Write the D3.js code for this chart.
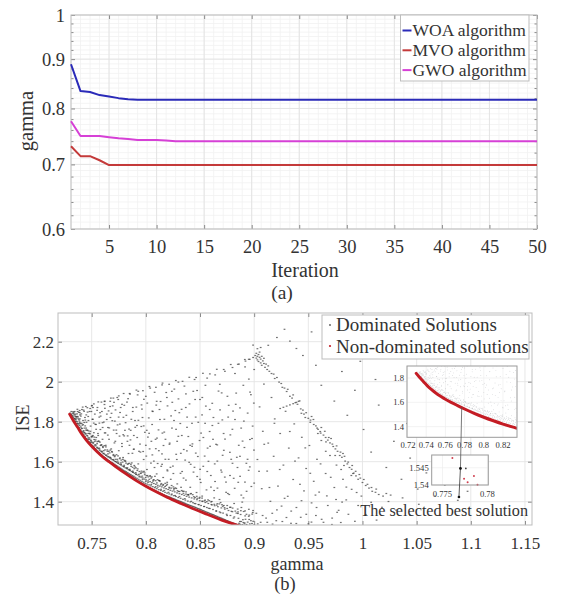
<!DOCTYPE html>
<html>
<head>
<meta charset="utf-8">
<script src="https://cdn.jsdelivr.net/npm/d3@7"></script>
<style>
  body { margin: 0; background: #fff; }
  svg { display: block; font-family: "Liberation Serif", "Times New Roman", serif; }
</style>
</head>
<body>
<svg id="chart" width="561" height="596"></svg>
<script>
// ---------------- (a) convergence of gamma ----------------
const iterations = [1,2,3,4,5,6,7,8,9,10,11,12,13,14,15,16,17,18,19,20,21,22,23,24,25,
  26,27,28,29,30,31,32,33,34,35,36,37,38,39,40,41,42,43,44,45,46,47,48,49,50];
const woaGamma = [0.889,0.834,0.832,0.826,0.823,0.820,0.818,0.817,0.817,0.817,
  0.817,0.817,0.817,0.817,0.817,0.817,0.817,0.817,0.817,0.817,
  0.817,0.817,0.817,0.817,0.817,0.817,0.817,0.817,0.817,0.817,
  0.817,0.817,0.817,0.817,0.817,0.817,0.817,0.817,0.817,0.817,
  0.817,0.817,0.817,0.817,0.817,0.817,0.817,0.817,0.817,0.817];
const mvoGamma = [0.731,0.714,0.714,0.707,0.699,0.699,0.699,0.699,0.699,0.699,
  0.699,0.699,0.699,0.699,0.699,0.699,0.699,0.699,0.699,0.699,
  0.699,0.699,0.699,0.699,0.699,0.699,0.699,0.699,0.699,0.699,
  0.699,0.699,0.699,0.699,0.699,0.699,0.699,0.699,0.699,0.699,
  0.699,0.699,0.699,0.699,0.699,0.699,0.699,0.699,0.699,0.699];
const gwoGamma = [0.776,0.749,0.749,0.749,0.747,0.745,0.744,0.742,0.742,0.742,
  0.741,0.740,0.740,0.740,0.740,0.740,0.740,0.740,0.740,0.740,
  0.740,0.740,0.740,0.740,0.740,0.740,0.740,0.740,0.740,0.740,
  0.740,0.740,0.740,0.740,0.740,0.740,0.740,0.740,0.740,0.740,
  0.740,0.740,0.740,0.740,0.740,0.740,0.740,0.740,0.740,0.740];
const seriesNames = ["WOA algorithm", "MVO algorithm", "GWO algorithm"];
const iterTicks = [5,10,15,20,25,30,35,40,45,50];
const gammaTicksA = [0.6,0.7,0.8,0.9,1];

// ---------------- (b) Pareto front: gamma vs ISE ----------------
const gammaTicksB = [0.75,0.8,0.85,0.9,0.95,1,1.05,1.1,1.15];
const iseTicks = [1.4,1.6,1.8,2,2.2];
const legendNamesB = ["Dominated Solutions", "Non-dominated solutions"];

// non-dominated (Pareto) solutions [gamma, ISE]
const paretoFront = [
  [0.7296,1.838],[0.733,1.806],[0.737,1.772],[0.741,1.737],[0.745,1.708],
  [0.750,1.677],[0.755,1.650],[0.760,1.625],[0.766,1.600],[0.772,1.576],
  [0.780,1.545],[0.790,1.509],[0.800,1.477],[0.810,1.448],[0.820,1.421],
  [0.833,1.390],[0.845,1.362],[0.857,1.336],[0.870,1.308],[0.8855,1.280]
];

// dominated solutions [gamma, ISE], left part of the cloud
const dominatedLeft = [
  [0.731,1.835],[0.732,1.828],[0.733,1.842],[0.734,1.816],[0.735,1.838],[0.735,1.801],[0.736,1.826],[0.737,1.851],
  [0.737,1.789],[0.738,1.812],[0.738,1.772],[0.739,1.845],[0.739,1.797],[0.740,1.828],[0.740,1.758],
  [0.741,1.749],[0.741,1.861],[0.742,1.733],[0.742,1.806],[0.743,1.744],[0.743,1.852],[0.744,1.722],[0.744,1.779],
  [0.745,1.715],[0.745,1.834],[0.746,1.703],[0.746,1.758],[0.746,1.870],[0.747,1.712],[0.747,1.806],[0.748,1.692],
  [0.748,1.742],[0.748,1.851],[0.749,1.697],[0.749,1.778],[0.750,1.681],[0.750,1.723],[0.750,1.879],
  [0.751,1.676],[0.751,1.812],[0.752,1.674],[0.752,1.745],[0.752,1.889],[0.753,1.663],[0.753,1.702],[0.754,1.658],
  [0.754,1.786],[0.755,1.652],[0.755,1.690],[0.755,1.857],[0.756,1.646],[0.756,1.731],[0.757,1.646],[0.757,1.668],
  [0.757,1.823],[0.758,1.637],[0.758,1.761],[0.759,1.631],[0.759,1.684],[0.759,1.898],[0.760,1.626],[0.760,1.712],[0.760,1.795],
  [0.761,1.622],[0.761,1.655],[0.762,1.621],[0.762,1.744],[0.762,1.903],[0.763,1.614],[0.763,1.682],[0.764,1.609],
  [0.764,1.838],[0.765,1.606],[0.765,1.639],[0.765,1.771],[0.766,1.602],[0.766,1.712],[0.767,1.598],[0.767,1.622],
  [0.767,1.876],[0.768,1.593],[0.768,1.664],[0.769,1.592],[0.769,1.805],[0.770,1.588],[0.770,1.631],[0.770,1.918],
  [0.771,1.584],[0.771,1.694],[0.772,1.579],[0.772,1.612],[0.772,1.859],[0.773,1.577],[0.773,1.741],[0.774,1.572],
  [0.774,1.603],[0.775,1.569],[0.775,1.655],[0.775,1.929],[0.776,1.566],[0.776,1.788],[0.777,1.563],[0.777,1.594],
  [0.778,1.558],[0.778,1.676],[0.778,1.887],[0.779,1.554],[0.779,1.621],[0.780,1.551],[0.780,1.729],[0.780,1.582],
  [0.781,1.548],[0.781,1.603],[0.782,1.544],[0.782,1.832],[0.783,1.541],[0.783,1.569],[0.783,1.702],[0.784,1.536],
  [0.784,1.641],[0.785,1.533],[0.785,1.558],[0.785,1.941],[0.786,1.529],[0.786,1.757],[0.787,1.526],[0.787,1.594],
  [0.788,1.522],[0.788,1.547],[0.788,1.871],[0.789,1.518],[0.789,1.663],[0.790,1.515],[0.790,1.574],[0.790,1.806],
  [0.791,1.511],[0.791,1.536],[0.792,1.507],[0.792,1.721],[0.793,1.503],[0.793,1.589],[0.793,1.952],[0.794,1.500],
  [0.794,1.524],[0.795,1.497],[0.795,1.648],[0.796,1.493],[0.796,1.553],[0.796,1.884],[0.797,1.490],[0.797,1.512],
  [0.798,1.486],[0.798,1.611],[0.798,1.779],[0.799,1.483],[0.799,1.535],[0.800,1.480],[0.800,1.502],[0.800,1.682],[0.800,1.927],
  [0.801,1.477],[0.801,1.561],[0.802,1.473],[0.802,1.497],[0.803,1.471],[0.803,1.742],[0.804,1.468],[0.804,1.528],
  [0.804,1.968],[0.805,1.465],[0.805,1.486],[0.806,1.462],[0.806,1.634],[0.806,1.853],[0.807,1.459],[0.807,1.508],
  [0.808,1.457],[0.808,1.571],[0.809,1.454],[0.809,1.475],[0.809,1.712],[0.810,1.451],[0.810,1.539],[0.810,1.902],
  [0.811,1.449],[0.811,1.473],[0.812,1.446],[0.812,1.655],[0.813,1.444],[0.813,1.503],[0.813,1.811],[0.814,1.441],
  [0.814,1.462],[0.815,1.439],[0.815,1.587],[0.815,1.984],[0.816,1.436],[0.816,1.521],[0.817,1.434],[0.817,1.456],
  [0.817,1.748],[0.818,1.431],[0.818,1.612],[0.819,1.429],[0.819,1.481],[0.820,1.427],[0.820,1.554],[0.820,1.879],
  [0.821,1.425],[0.821,1.447],[0.822,1.423],[0.822,1.693],[0.823,1.421],[0.823,1.512],[0.824,1.418],[0.824,1.438],
  [0.824,1.952],[0.825,1.416],[0.825,1.578],[0.826,1.414],[0.826,1.466],[0.826,1.806],[0.827,1.412],[0.827,1.431],
  [0.828,1.409],[0.828,1.637],[0.829,1.407],[0.829,1.489],[0.830,1.405],[0.830,1.727],[0.830,1.998],
  [0.831,1.403],[0.831,1.426],[0.832,1.401],[0.832,1.542],[0.833,1.399],[0.833,1.862],[0.834,1.396],[0.834,1.452],
  [0.835,1.394],[0.835,1.661],[0.836,1.392],[0.836,1.415],[0.837,1.389],[0.837,1.508],[0.837,1.939],[0.838,1.387],
  [0.838,1.772],[0.839,1.385],[0.839,1.436],[0.840,1.383],[0.840,1.597],
  [0.841,1.381],[0.841,1.472],[0.842,1.379],[0.842,1.402],[0.843,1.377],[0.843,1.689],[0.844,1.375],[0.844,1.548],
  [0.845,1.373],[0.845,1.391],[0.845,2.011],[0.846,1.371],[0.846,1.823],[0.847,1.368],[0.847,1.427],[0.848,1.366],
  [0.848,1.626],[0.849,1.364],[0.849,1.385],[0.850,1.362],[0.850,1.512],[0.850,1.911],
  [0.851,1.360],[0.851,1.743],[0.852,1.357],[0.852,1.403],[0.853,1.355],[0.853,1.577],[0.854,1.353],[0.854,1.376],
  [0.855,1.350],[0.855,1.982],[0.856,1.348],[0.856,1.459],[0.857,1.346],[0.857,1.668],[0.858,1.344],[0.858,1.367],
  [0.859,1.341],[0.859,1.861],[0.860,1.339],[0.860,1.531],
  [0.861,1.337],[0.861,1.384],[0.862,1.335],[0.862,1.712],[0.863,1.333],[0.863,1.456],[0.864,1.330],[0.864,2.034],
  [0.865,1.328],[0.865,1.352],[0.866,1.326],[0.866,1.603],[0.867,1.323],[0.867,1.792],[0.868,1.321],[0.868,1.411],
  [0.869,1.319],[0.869,1.345],[0.870,1.317],[0.870,1.944],[0.870,1.548],
  [0.871,1.314],[0.871,1.377],[0.872,1.312],[0.872,1.657],[0.873,1.310],[0.873,2.052],[0.874,1.307],[0.874,1.498],
  [0.875,1.305],[0.875,1.331],[0.876,1.303],[0.876,1.823],[0.877,1.301],[0.877,1.436],[0.878,1.298],[0.878,1.734],
  [0.879,1.296],[0.879,1.352],[0.880,1.294],[0.880,1.592],[0.880,2.071],
  [0.881,1.292],[0.881,1.318],[0.882,1.290],[0.882,1.467],[0.883,1.288],[0.883,1.887],[0.884,1.286],[0.884,1.622],
  [0.885,1.284],[0.885,1.341],[0.886,1.292],[0.886,2.088],[0.887,1.287],[0.887,1.527],[0.888,1.301],[0.888,1.768],
  [0.889,1.285],[0.889,1.398],[0.890,1.296],[0.890,1.982],
  [0.891,1.289],[0.891,1.671],[0.892,1.312],[0.892,2.103],[0.893,1.286],[0.893,1.452],[0.894,1.298],[0.894,1.843],
  [0.895,1.327],[0.895,2.112],[0.896,1.289],[0.896,1.574],[0.897,1.305],[0.897,1.935],[0.898,1.291],[0.898,1.716],
  [0.899,1.356],[0.899,2.121],[0.900,1.284],[0.900,1.493],[0.900,2.061]
];

// dense band of dominated solutions just above the front
const dominatedNearFront = [
  [0.7302,1.843],[0.7308,1.833],[0.7315,1.830],[0.7322,1.822],[0.7327,1.829],[0.7334,1.811],[0.7341,1.815],[0.7347,1.799],
  [0.7353,1.808],[0.7358,1.791],[0.7364,1.801],[0.7371,1.779],[0.7376,1.789],[0.7382,1.770],[0.7388,1.781],[0.7393,1.761],
  [0.7399,1.774],[0.7404,1.752],[0.7411,1.766],[0.7416,1.744],[0.7423,1.752],[0.7428,1.734],[0.7434,1.746],[0.7439,1.727],
  [0.7446,1.738],[0.7452,1.716],[0.7457,1.731],[0.7463,1.709],[0.7469,1.719],[0.7474,1.701],[0.7481,1.712],[0.7486,1.693],
  [0.7492,1.707],[0.7497,1.686],[0.7503,1.697],[0.7509,1.678],[0.7514,1.692],[0.7521,1.671],[0.7527,1.683],[0.7532,1.664],
  [0.7538,1.679],[0.7544,1.657],[0.7549,1.669],[0.7556,1.651],[0.7561,1.666],[0.7567,1.646],[0.7573,1.657],[0.7578,1.640],
  [0.7585,1.653],[0.7591,1.634],[0.7596,1.648],[0.7602,1.628],[0.7608,1.641],[0.7613,1.623],[0.7619,1.637],[0.7626,1.619],
  [0.7631,1.632],[0.7637,1.614],[0.7642,1.628],[0.7648,1.609],[0.7654,1.623],[0.7661,1.605],[0.7667,1.619],[0.7672,1.600],
  [0.7679,1.614],[0.7685,1.596],[0.7691,1.610],[0.7698,1.592],[0.7704,1.606],[0.7711,1.587],[0.7717,1.601],[0.7724,1.582],
  [0.7731,1.596],[0.7737,1.578],[0.7744,1.592],[0.7751,1.573],[0.7758,1.587],[0.7764,1.568],[0.7771,1.583],[0.7778,1.563],
  [0.7785,1.578],[0.7791,1.558],[0.7798,1.574],[0.7805,1.554],[0.7812,1.569],[0.7819,1.550],[0.7826,1.565],[0.7833,1.545],
  [0.7840,1.560],[0.7847,1.540],[0.7854,1.556],[0.7861,1.536],[0.7868,1.551],[0.7875,1.531],[0.7882,1.547],[0.7889,1.527],
  [0.7896,1.542],[0.7903,1.522],[0.7911,1.538],[0.7918,1.517],[0.7925,1.533],[0.7933,1.512],[0.7941,1.528],[0.7948,1.507],
  [0.7956,1.523],[0.7964,1.502],[0.7971,1.519],[0.7979,1.497],[0.7987,1.513],[0.7995,1.492],[0.8003,1.509],[0.8012,1.488],
  [0.8021,1.504],[0.8030,1.484],[0.8039,1.500],[0.8047,1.479],[0.8056,1.495],[0.8065,1.475],[0.8074,1.491],[0.8083,1.470],
  [0.8092,1.487],[0.8101,1.465],[0.8110,1.482],[0.8120,1.460],[0.8129,1.478],[0.8139,1.456],[0.8148,1.474],[0.8158,1.452],
  [0.8167,1.469],[0.8177,1.447],[0.8187,1.465],[0.8196,1.443],[0.8206,1.461],[0.8216,1.439],[0.8226,1.457],[0.8236,1.434],
  [0.8246,1.453],[0.8257,1.430],[0.8267,1.449],[0.8278,1.426],[0.8288,1.444],[0.8299,1.421],[0.8310,1.440],[0.8321,1.417],
  [0.8332,1.436],[0.8343,1.412],[0.8354,1.432],[0.8365,1.408],[0.8376,1.427],[0.8388,1.403],[0.8400,1.423],[0.8411,1.399],
  [0.8423,1.419],[0.8435,1.395],[0.8447,1.414],[0.8459,1.390],[0.8472,1.410],[0.8484,1.386],[0.8497,1.405],[0.8510,1.381],
  [0.8523,1.401],[0.8536,1.376],[0.8549,1.396],[0.8563,1.371],[0.8577,1.391],[0.8591,1.366],[0.8605,1.386],[0.8620,1.361],
  [0.8635,1.380],[0.8650,1.355],[0.8665,1.375],[0.8681,1.349],[0.8697,1.369],[0.8713,1.343],[0.8729,1.363],[0.8746,1.337],
  [0.8763,1.356],[0.8781,1.331],[0.8799,1.350],[0.8817,1.324],[0.8836,1.343],[0.8855,1.317],[0.8875,1.336],[0.8896,1.310],
  [0.8917,1.329],
  [0.7312,1.851],[0.7336,1.838],[0.7361,1.824],[0.7385,1.804],[0.7408,1.792],[0.7433,1.768],[0.7459,1.757],[0.7484,1.739],
  [0.7511,1.731],[0.7537,1.709],[0.7563,1.704],[0.7589,1.684],[0.7617,1.680],[0.7644,1.659],[0.7672,1.658],[0.7701,1.636],
  [0.7729,1.635],[0.7758,1.615],[0.7788,1.612],[0.7817,1.593],[0.7847,1.592],[0.7878,1.572],[0.7909,1.569],[0.7941,1.551],
  [0.7973,1.548],[0.8006,1.530],[0.8039,1.529],[0.8073,1.510],[0.8108,1.510],[0.8143,1.491],[0.8179,1.492],[0.8216,1.472],
  [0.8254,1.474],[0.8292,1.455],[0.8331,1.456],[0.8371,1.438],[0.8412,1.439],[0.8454,1.421],[0.8497,1.422],[0.8541,1.404],
  [0.8586,1.405],[0.8632,1.387],[0.8679,1.389],[0.8727,1.370],[0.8776,1.372],[0.8826,1.353],[0.8877,1.355],[0.8929,1.337],
  [0.8982,1.338],
  [0.7327,1.849],[0.7349,1.826],[0.7374,1.818],[0.7396,1.791],[0.7421,1.785],[0.7447,1.758],[0.7471,1.754],[0.7498,1.727],
  [0.7524,1.723],[0.7551,1.700],[0.7576,1.698],[0.7603,1.676],[0.7631,1.674],[0.7658,1.652],[0.7686,1.651],[0.7715,1.630],
  [0.7743,1.629],[0.7773,1.608],[0.7802,1.607],[0.7832,1.587],[0.7862,1.587],[0.7893,1.565],[0.7925,1.564],[0.7957,1.544],
  [0.7989,1.544],[0.8022,1.524],[0.8056,1.524],[0.8090,1.505],[0.8125,1.505],[0.8161,1.486],[0.8197,1.487],[0.8235,1.468],
  [0.8273,1.469],[0.8311,1.451],[0.8351,1.452],[0.8391,1.434],[0.8433,1.435],[0.8475,1.417],[0.8519,1.418],[0.8563,1.400],
  [0.8609,1.401],[0.8655,1.383],[0.8703,1.385],[0.8751,1.366],[0.8801,1.368],[0.8851,1.349],[0.8903,1.351],[0.8955,1.333],
  [0.7318,1.839],[0.7331,1.822],[0.7345,1.833],[0.7352,1.812],[0.7367,1.793],[0.7372,1.826],[0.7386,1.789],[0.7391,1.814],
  [0.7405,1.768],[0.7413,1.783],[0.7426,1.755],[0.7431,1.796],[0.7444,1.741],[0.7449,1.768],[0.7462,1.728],[0.7468,1.741],
  [0.7479,1.719],[0.7488,1.752],[0.7495,1.703],[0.7506,1.726],[0.7516,1.697],[0.7523,1.711],[0.7535,1.685],[0.7542,1.721],
  [0.7552,1.672],[0.7565,1.701],[0.7572,1.663],[0.7582,1.681],[0.7594,1.651],[0.7604,1.671],[0.7611,1.642],[0.7623,1.659],
  [0.7634,1.633],[0.7645,1.652],[0.7655,1.626],[0.7666,1.644],[0.7676,1.619],[0.7689,1.648],[0.7699,1.611],[0.7712,1.625],
  [0.7722,1.601],[0.7736,1.612],[0.7747,1.594],[0.7761,1.619],[0.7772,1.587],[0.7786,1.598],[0.7797,1.576],[0.7811,1.603],
  [0.7823,1.569],[0.7838,1.590],[0.7851,1.562],[0.7864,1.577],[0.7879,1.553],[0.7893,1.581],[0.7907,1.545],[0.7921,1.556],
  [0.7936,1.537],[0.7952,1.541],[0.7967,1.528],[0.7983,1.552],[0.7998,1.521],[0.8015,1.531],[0.8032,1.512],[0.8049,1.518],
  [0.8066,1.503],[0.8084,1.527],[0.8102,1.494],[0.8121,1.506],[0.8139,1.485],[0.8158,1.482],[0.8178,1.476],[0.8197,1.497],
  [0.8218,1.468],[0.8238,1.481],[0.8259,1.459],[0.8281,1.466],[0.8302,1.451],[0.8325,1.472],[0.8347,1.442],[0.8371,1.449],
  [0.8394,1.434],[0.8418,1.441],[0.8443,1.425],[0.8468,1.446],[0.8494,1.417],[0.8520,1.428],[0.8547,1.408],[0.8574,1.409],
  [0.8602,1.399],[0.8631,1.419],[0.8660,1.390],[0.8690,1.396],[0.8720,1.381],[0.8751,1.381],[0.8783,1.372],[0.8815,1.391],
  [0.8848,1.363],[0.8882,1.371],[0.8916,1.354],[0.8951,1.362],[0.8987,1.346]
];

// scattered dominated solutions inside the cloud
const dominatedInterior = [
  [0.7343,1.851],[0.7368,1.862],[0.7392,1.834],[0.7417,1.873],[0.7438,1.821],[0.7462,1.848],[0.7486,1.866],[0.7507,1.812],
  [0.7529,1.838],[0.7553,1.871],[0.7571,1.793],[0.7594,1.851],[0.7618,1.886],[0.7639,1.811],[0.7662,1.769],[0.7683,1.842],
  [0.7706,1.897],[0.7727,1.758],[0.7749,1.823],[0.7768,1.871],[0.7791,1.735],[0.7813,1.795],[0.7836,1.915],[0.7858,1.709],
  [0.7879,1.851],[0.7902,1.772],[0.7924,1.934],[0.7946,1.688],[0.7969,1.821],[0.7991,1.747],[0.8013,1.893],[0.8035,1.664],
  [0.8058,1.786],[0.8081,1.947],[0.8103,1.718],[0.8126,1.861],[0.8149,1.639],[0.8171,1.812],[0.8194,1.921],[0.8218,1.687],
  [0.8241,1.768],[0.8263,1.963],[0.8286,1.611],[0.8309,1.845],[0.8332,1.731],[0.8356,1.978],[0.8379,1.654],[0.8403,1.889],
  [0.8426,1.792],[0.8449,1.572],[0.8473,1.956],[0.8496,1.706],[0.8519,1.834],[0.8543,1.628],[0.8566,2.018],[0.8589,1.751],
  [0.8613,1.892],[0.8636,1.589],[0.8659,1.684],[0.8683,1.987],[0.8706,1.809],[0.8729,1.523],[0.8753,1.927],[0.8776,1.647],
  [0.8799,1.762],[0.8823,2.041],[0.8846,1.571],[0.8869,1.869],[0.8893,1.703],[0.8916,2.074],[0.8939,1.612],[0.8962,1.948],
  [0.8986,1.778],
  [0.7356,1.818],[0.7404,1.839],[0.7452,1.797],[0.7497,1.851],[0.7541,1.762],[0.7583,1.828],[0.7627,1.744],[0.7671,1.902],
  [0.7714,1.803],[0.7757,1.728],[0.7801,1.882],[0.7845,1.763],[0.7887,1.662],[0.7931,1.807],[0.7975,1.651],[0.8019,1.723],
  [0.8064,1.851],[0.8109,1.591],[0.8153,1.743],[0.8198,1.559],[0.8244,1.897],[0.8289,1.702],[0.8335,1.551],[0.8381,1.823],
  [0.8427,1.677],[0.8474,1.526],[0.8521,1.921],[0.8567,1.551],[0.8614,1.781],[0.8661,1.468],[0.8709,1.632],[0.8757,1.441],
  [0.8805,1.853],[0.8853,1.497],[0.8901,1.419],[0.8949,1.557],[0.8997,1.893],
  [0.7381,1.847],[0.7425,1.858],[0.7468,1.826],[0.7512,1.871],[0.7533,1.787],[0.7577,1.845],[0.7601,1.771],[0.7622,1.867],
  [0.7649,1.733],[0.7673,1.821],[0.7694,1.879],[0.7718,1.702],[0.7739,1.784],[0.7762,1.846],[0.7779,1.691],[0.7807,1.757],
  [0.7826,1.898],[0.7849,1.682],[0.7866,1.812],[0.7889,1.731],[0.7912,1.873],[0.7937,1.652],[0.7958,1.776],[0.7982,1.912],
  [0.8004,1.628],[0.8027,1.819],[0.8051,1.702],[0.8074,1.603],[0.8096,1.883],[0.8117,1.759],[0.8142,1.577],[0.8163,1.681],
  [0.8188,1.946],[0.8211,1.612],[0.8233,1.829],[0.8254,1.541],[0.8279,1.762],[0.8301,1.914],[0.8323,1.642],[0.8348,1.518],
  [0.8369,1.871],[0.8392,1.726],[0.8414,1.587],[0.8438,1.952],[0.8461,1.643],[0.8484,1.797],[0.8507,1.496],[0.8531,1.721],
  [0.8554,1.878],[0.8578,1.602],[0.8601,1.473],[0.8624,1.821],[0.8648,1.687],[0.8671,1.953],[0.8694,1.558],[0.8718,1.741],
  [0.8741,1.447],[0.8765,1.882],[0.8788,1.612],[0.8811,1.517],[0.8834,1.943],[0.8858,1.682],[0.8881,1.433],[0.8905,1.803],
  [0.8928,1.592],[0.8951,2.013],[0.8974,1.476],[0.8998,1.658],
  [0.7365,1.839],[0.7441,1.808],[0.7519,1.793],[0.7558,1.741],[0.7612,1.798],[0.7656,1.854],[0.7703,1.758],[0.7745,1.911],
  [0.7793,1.822],[0.7832,1.729],[0.7876,1.642],[0.7918,1.781],[0.7964,1.863],[0.8008,1.757],[0.8047,1.593],[0.8092,1.665],
  [0.8136,1.901],[0.8181,1.712],[0.8227,1.572],[0.8272,1.856],[0.8318,1.791],[0.8363,1.608],[0.8409,1.682],[0.8455,1.911],
  [0.8501,1.562],[0.8547,1.792],[0.8593,1.677],[0.8639,1.501],[0.8685,1.859],[0.8731,1.713],[0.8777,1.531],[0.8823,1.811],
  [0.8869,1.627],[0.8915,1.498],[0.8961,1.711]
];

// dominated solutions along the upper rim of the cloud
const dominatedUpperRim = [
  [0.7335,1.848],[0.7389,1.856],[0.7446,1.876],[0.7503,1.881],[0.7561,1.899],[0.7619,1.901],[0.7677,1.918],[0.7736,1.921],
  [0.7795,1.941],[0.7854,1.938],[0.7913,1.958],[0.7973,1.955],[0.8033,1.976],[0.8093,1.972],[0.8154,1.993],[0.8215,1.987],
  [0.8277,2.006],[0.8339,2.002],[0.8401,2.022],[0.8464,2.021],[0.8527,2.042],[0.8591,2.039],[0.8655,2.062],[0.8719,2.061],
  [0.8784,2.086],[0.8849,2.087],[0.8914,2.111],[0.8959,2.112]
];

// right part: top cluster, descending band, lower region and outliers
const dominatedRight = [
  [0.901,2.131],[0.902,2.118],[0.902,2.142],[0.903,2.109],[0.903,2.127],[0.904,2.136],[0.904,2.101],[0.905,2.122],
  [0.905,2.148],[0.906,2.113],[0.906,2.094],[0.907,2.127],[0.907,2.082],[0.908,2.104],[0.909,2.091],[0.909,2.117],
  [0.910,2.072],[0.911,2.088],[0.912,2.061],[0.913,2.079],[0.903,2.165],[0.899,2.183],[0.906,2.171],
  [0.914,2.052],[0.916,2.041],[0.918,2.038],[0.919,2.016],[0.921,2.021],[0.923,1.998],[0.925,1.991],[0.926,1.972],
  [0.928,1.968],[0.930,1.951],[0.931,1.962],[0.933,1.927],[0.935,1.918],[0.936,1.934],[0.938,1.895],[0.940,1.887],
  [0.941,1.902],[0.943,1.864],[0.945,1.858],[0.946,1.838],[0.948,1.845],[0.950,1.817],[0.952,1.808],[0.953,1.826],
  [0.955,1.786],[0.957,1.779],[0.959,1.762],[0.961,1.751],[0.962,1.771],[0.964,1.733],[0.966,1.721],[0.968,1.708],
  [0.970,1.694],[0.971,1.716],[0.973,1.676],[0.975,1.664],[0.977,1.652],[0.979,1.631],[0.981,1.622],[0.982,1.641],
  [0.984,1.603],[0.986,1.589],[0.988,1.571],[0.990,1.562],[0.992,1.543],[0.994,1.529],[0.996,1.512],[0.998,1.518],
  [1.000,1.496],[1.003,1.481],[1.006,1.468],[1.009,1.452],[1.012,1.447],[1.015,1.436],[1.019,1.428],[1.022,1.441],[1.026,1.433],
  [0.9436,1.842],[0.9472,1.821],[0.9518,1.797],[0.9547,1.811],[0.9581,1.768],[0.9614,1.743],[0.9652,1.752],[0.9689,1.721],
  [0.9722,1.688],[0.9761,1.679],[0.9797,1.648],[0.9834,1.627],[0.9868,1.598],[0.9905,1.581],[0.9937,1.552],[0.9971,1.536],
  [1.0012,1.511],[1.0046,1.487],[1.0083,1.471],[1.0127,1.463],[0.9663,1.699],[0.9748,1.631],[0.9829,1.581],[0.9912,1.541],[0.9588,1.741],
  [0.924,1.866],[0.927,1.872],[0.930,1.878],[0.933,1.884],[0.936,1.890],[0.939,1.897],[0.942,1.904],
  [0.902,1.342],[0.903,1.611],[0.905,1.874],[0.906,1.297],[0.907,1.465],[0.908,1.752],[0.909,1.988],[0.911,1.318],
  [0.912,1.553],[0.913,1.693],[0.915,1.402],[0.916,1.921],[0.917,1.288],[0.918,1.627],[0.919,1.814],[0.921,1.359],
  [0.922,1.478],[0.924,1.741],[0.926,1.301],[0.927,1.583],[0.929,1.852],[0.931,1.427],[0.932,1.668],[0.934,1.292],
  [0.936,1.511],[0.937,1.789],[0.939,1.371],[0.941,1.619],[0.943,1.322],[0.944,1.722],[0.946,1.454],[0.948,1.566],
  [0.950,1.289],[0.951,1.681],[0.953,1.394],[0.955,1.502],[0.957,1.331],[0.958,1.612],[0.960,1.448],[0.962,1.706],
  [0.964,1.297],[0.966,1.541],[0.968,1.381],[0.970,1.631],[0.972,1.318],[0.974,1.471],[0.976,1.583],[0.978,1.357],
  [0.980,1.296],[0.982,1.512],[0.985,1.409],[0.987,1.337],[0.990,1.462],[0.993,1.302],[0.996,1.381],[0.999,1.428],
  [1.003,1.336],[1.008,1.397],[1.013,1.308],[1.018,1.372],[1.024,1.401],[1.031,1.358],[1.037,1.419],[1.044,1.332],[1.052,1.387],
  [0.8868,1.301],[0.8912,1.294],[0.8954,1.311],[0.8991,1.302],[0.9033,1.289],[0.9078,1.331],[0.9121,1.297],[0.9167,1.342],
  [0.9204,1.305],[0.9253,1.378],[0.9298,1.321],[0.9342,1.353],[0.9389,1.291],[0.9437,1.405],[0.9481,1.337],[0.9529,1.298],
  [0.9576,1.371],[0.9623,1.312],[0.9671,1.429],[0.9718,1.286],[0.9766,1.347],[0.9812,1.398],
  [0.9045,1.552],[0.9093,1.687],[0.9141,1.471],[0.9187,1.792],[0.9236,1.561],[0.9281,1.417],[0.9329,1.751],[0.9377,1.603],
  [0.9423,1.487],[0.9472,1.669],[0.9518,1.542],[0.9566,1.433],[0.9613,1.589],[0.9661,1.652],[0.9707,1.522],[0.9756,1.411],
  [0.9803,1.561],[0.9851,1.473],[0.9897,1.531],[0.9946,1.446],
  [0.913,2.182],[0.921,2.221],[0.933,2.203],[0.939,2.166],[0.945,2.131],[0.953,2.249],[0.957,2.082],[0.962,1.982],
  [0.968,2.148],[0.974,1.903],[0.981,2.051],[0.986,1.832],[0.993,1.957],[1.001,1.761],[1.008,1.648],[1.015,1.883],
  [1.022,1.571],[1.029,1.702],[1.036,1.512],[1.044,1.618],[1.051,1.463],[1.059,1.544],[1.067,1.428],[1.076,1.482],
  [1.088,1.407],[1.097,1.452],[0.998,2.102],[1.012,2.011],[0.928,2.262],[1.041,1.791]
];
const dominated = dominatedLeft.concat(dominatedNearFront, dominatedInterior, dominatedUpperRim, dominatedRight);

// close-up around the chosen compromise solution
const bestSolution = [0.7770, 1.5448];
const nearBestDominated = [[0.7776, 1.5448]];
const nearBestPareto = [[0.7761,1.5478],[0.7774,1.5418],[0.7778,1.5408],[0.7785,1.5426],[0.7789,1.5401]];
const inset1GammaTicks = [0.72,0.74,0.76,0.78,0.8,0.82];
const inset1IseTicks = [1.4,1.6,1.8];
const inset2GammaTicks = [0.775,0.78];
const inset2IseTicks = [1.54,1.545];

// ---------------- drawing ----------------
const svg = d3.select("#chart");
const FONT = "Liberation Serif";
const TEXT = "#333";
const FRAME = "#bdbdbd";
const TICK = "#8a8a8a";
const colors = ["#2a2ab8", "#c43a3a", "#d640d6"];
const defs = svg.append("defs");

function frame(g, x0, y0, x1, y1, stroke) {
  g.append("rect").attr("x", x0).attr("y", y0).attr("width", x1 - x0).attr("height", y1 - y0)
    .attr("fill", "none").attr("stroke", stroke || FRAME).attr("stroke-width", 1);
}
function label(g, x, y, txt, size, anchor) {
  return g.append("text").attr("x", x).attr("y", y).attr("dy", "0.35em")
    .attr("text-anchor", anchor || "middle").attr("font-family", FONT)
    .attr("font-size", size).attr("fill", TEXT).text(txt);
}
function styleAxis(g) {
  g.select(".domain").remove();
  g.selectAll(".tick line").attr("stroke", TICK);
  g.selectAll("text").attr("fill", TEXT).attr("font-family", FONT);
}
function gridLines(g, vals, scale, vertical, a0, a1, color, w) {
  g.append("g").selectAll("line").data(vals).join("line")
    .attr(vertical ? "x1" : "y1", d => scale(d)).attr(vertical ? "x2" : "y2", d => scale(d))
    .attr(vertical ? "y1" : "x1", a0).attr(vertical ? "y2" : "x2", a1)
    .attr("stroke", color).attr("stroke-width", w);
}

// ===== panel (a) =====
const A = { left: 71, right: 537, top: 15, bottom: 229 };
const xA = d3.scaleLinear().domain([1, 50]).range([A.left, A.right]);
const yA = d3.scaleLog().domain([0.6, 1]).range([A.bottom, A.top]);
const gA = svg.append("g");

const minorY = d3.range(61, 100).map(v => v / 100);
gridLines(gA, iterations, xA, true, A.top, A.bottom, "#f1f1f1", 0.8);
gridLines(gA, minorY, yA, false, A.left, A.right, "#f1f1f1", 0.8);
gridLines(gA, iterTicks, xA, true, A.top, A.bottom, "#e2e2e2", 0.9);
gridLines(gA, gammaTicksA, yA, false, A.left, A.right, "#e2e2e2", 0.9);

gA.append("g").attr("transform", `translate(0,${A.bottom})`)
  .call(d3.axisBottom(xA).tickValues(iterTicks).tickSize(-4).tickFormat(d3.format("d")))
  .call(styleAxis)
  .call(g => g.selectAll("text").attr("y", 17.5).attr("dy", "0.35em").attr("font-size", 18.5));
gA.append("g").attr("transform", `translate(0,${A.top})`)
  .call(d3.axisTop(xA).tickValues(iterTicks).tickSize(-4).tickFormat(""))
  .call(styleAxis);
gA.append("g").attr("transform", `translate(${A.left},0)`)
  .call(d3.axisLeft(yA).tickValues(gammaTicksA).tickSize(-4).tickFormat(d => d3.format("")(d)))
  .call(styleAxis)
  .call(g => g.selectAll("text").attr("x", -6).attr("dy", "0.35em").attr("font-size", 18.5));
gA.append("g").attr("transform", `translate(${A.right},0)`)
  .call(d3.axisRight(yA).tickValues(gammaTicksA).tickSize(-4).tickFormat(""))
  .call(styleAxis);
const minorTickY = d3.range(62, 100, 2).map(v => v / 100).filter(v => Math.abs(v * 10 - Math.round(v * 10)) > 1e-6);
gA.append("g").attr("transform", `translate(${A.left},0)`)
  .call(d3.axisLeft(yA).tickValues(minorTickY).tickSize(-2.5).tickFormat(""))
  .call(styleAxis);
gA.append("g").attr("transform", `translate(${A.right},0)`)
  .call(d3.axisRight(yA).tickValues(minorTickY).tickSize(-2.5).tickFormat(""))
  .call(styleAxis);

frame(gA, A.left, A.top, A.right, A.bottom);

const lineA = d3.line().x((d, i) => xA(iterations[i])).y(d => yA(d));
[woaGamma, mvoGamma, gwoGamma].forEach((s, k) => {
  gA.append("path").datum(s).attr("d", lineA).attr("fill", "none")
    .attr("stroke", colors[k]).attr("stroke-width", 2).attr("stroke-linejoin", "round");
});

const legA = gA.append("g");
legA.append("rect").attr("x", 400.5).attr("y", A.top).attr("width", 128.5).attr("height", 66)
  .attr("fill", "#fff").attr("stroke", FRAME);
seriesNames.forEach((name, k) => {
  const cy = 30.5 + k * 19.8;
  legA.append("line").attr("x1", 402.5).attr("x2", 411.5).attr("y1", cy).attr("y2", cy)
    .attr("stroke", colors[k]).attr("stroke-width", 2);
  label(legA, 412.5, cy - 0.5, name, 17.5, "start");
});

label(gA, (A.left + A.right) / 2 + 1, 269.5, "Iteration", 20);
gA.append("text").attr("transform", "translate(27,121) rotate(-90)").attr("dy", "0.3em")
  .attr("text-anchor", "middle").attr("font-family", FONT).attr("font-size", 20.5).attr("fill", TEXT).text("gamma");
label(gA, 282, 292, "(a)", 19.5);

// ===== panel (b) =====
const B = { left: 58, right: 532, top: 313, bottom: 525 };
const xB = d3.scaleLinear().domain([0.7189, 1.1565]).range([B.left, B.right]);
const yB = d3.scaleLinear().domain([1.2835, 2.3435]).range([B.bottom, B.top]);
const gB = svg.append("g");

defs.append("clipPath").attr("id", "clipB")
  .append("rect").attr("x", B.left).attr("y", B.top).attr("width", B.right - B.left).attr("height", B.bottom - B.top);

gridLines(gB, gammaTicksB, xB, true, B.top, B.bottom, "#e4e4e4", 0.9);
gridLines(gB, iseTicks, yB, false, B.left, B.right, "#e4e4e4", 0.9);

gB.append("g").attr("transform", `translate(0,${B.bottom})`)
  .call(d3.axisBottom(xB).tickValues(gammaTicksB).tickSize(-4).tickFormat(d => d3.format("")(d)))
  .call(styleAxis)
  .call(g => g.selectAll("text").attr("y", 17.7).attr("dy", "0.35em").attr("font-size", 17));
gB.append("g").attr("transform", `translate(0,${B.top})`)
  .call(d3.axisTop(xB).tickValues(gammaTicksB).tickSize(-4).tickFormat(""))
  .call(styleAxis);
gB.append("g").attr("transform", `translate(${B.left},0)`)
  .call(d3.axisLeft(yB).tickValues(iseTicks).tickSize(-4).tickFormat(d => d3.format("")(d)))
  .call(styleAxis)
  .call(g => g.selectAll("text").attr("x", -4).attr("dy", "0.35em").attr("font-size", 17));
gB.append("g").attr("transform", `translate(${B.right},0)`)
  .call(d3.axisRight(yB).tickValues(iseTicks).tickSize(-4).tickFormat(""))
  .call(styleAxis);

// dominated cloud and Pareto front
const cloud = gB.append("g").attr("clip-path", "url(#clipB)");
cloud.selectAll("rect").data(dominated).join("rect")
  .attr("x", d => xB(d[0]) - 0.9).attr("y", d => yB(d[1]) - 0.6).attr("width", 1.8).attr("height", 1.2)
  .attr("fill", "#3a3a3a").attr("opacity", 0.72);
const lineB = d3.line().x(d => xB(d[0])).y(d => yB(d[1])).curve(d3.curveCatmullRom);
cloud.append("path").datum(paretoFront).attr("d", lineB).attr("fill", "none")
  .attr("stroke", "#c41c24").attr("stroke-width", 2.8).attr("stroke-linecap", "round");

frame(gB, B.left, B.top, B.right, B.bottom);

// legend (b)
const legB = gB.append("g");
legB.append("rect").attr("x", 322).attr("y", 315).attr("width", 207).attr("height", 44)
  .attr("fill", "#fff").attr("stroke", FRAME);
legB.append("circle").attr("cx", 330).attr("cy", 325).attr("r", 0.9).attr("fill", "#555");
legB.append("circle").attr("cx", 330).attr("cy", 346).attr("r", 1.1).attr("fill", "#c41c24");
legendNamesB.forEach((name, k) => label(legB, 336, k === 0 ? 324.5 : 346, name, 19, "start"));

// inset 1: the Pareto front close-up
const I1 = { left: 407, right: 517, top: 366, bottom: 437.3 };
const xI1 = d3.scaleLinear().domain([0.72, 0.8346]).range([I1.left, I1.right]);
const yI1 = d3.scaleLinear().domain([1.312, 1.899]).range([I1.bottom, I1.top]);
const gI1 = gB.append("g");
defs.append("clipPath").attr("id", "clipI1")
  .append("rect").attr("x", I1.left).attr("y", I1.top).attr("width", I1.right - I1.left).attr("height", I1.bottom - I1.top);
gI1.append("rect").attr("x", I1.left).attr("y", I1.top).attr("width", I1.right - I1.left)
  .attr("height", I1.bottom - I1.top).attr("fill", "#fff");
gridLines(gI1, inset1GammaTicks, xI1, true, I1.top, I1.bottom, "#eeeeee", 0.7);
gridLines(gI1, inset1IseTicks, yI1, false, I1.left, I1.right, "#eeeeee", 0.7);
const c1 = gI1.append("g").attr("clip-path", "url(#clipI1)");
c1.selectAll("circle").data(dominated).join("circle")
  .attr("cx", d => xI1(d[0])).attr("cy", d => yI1(d[1])).attr("r", 0.45)
  .attr("fill", "#7a7f88").attr("opacity", 0.4);
const lineI1 = d3.line().x(d => xI1(d[0])).y(d => yI1(d[1])).curve(d3.curveCatmullRom);
c1.append("path").datum(paretoFront).attr("d", lineI1).attr("fill", "none")
  .attr("stroke", "#c41c24").attr("stroke-width", 3).attr("stroke-linecap", "round");
frame(gI1, I1.left, I1.top, I1.right, I1.bottom, "#9a9a9a");
inset1GammaTicks.forEach(d => label(gI1, xI1(d) + (d === 0.72 ? 1 : 0), 444.5, d3.format("")(d), 8.6));
inset1IseTicks.forEach(d => label(gI1, I1.left - 3, yI1(d), d3.format("")(d), 8.6, "end"));

// inset 2: around the selected solution
const I2 = { left: 431.7, right: 488.3, top: 455, bottom: 485 };
const xI2 = d3.scaleLinear().domain([0.7738, 0.7801]).range([I2.left, I2.right]);
const yI2 = d3.scaleLinear().domain([1.5400, 1.5487]).range([I2.bottom, I2.top]);
const gI2 = gB.append("g");
gI2.append("rect").attr("x", I2.left).attr("y", I2.top).attr("width", I2.right - I2.left)
  .attr("height", I2.bottom - I2.top).attr("fill", "#fff");
gridLines(gI2, inset2GammaTicks, xI2, true, I2.top, I2.bottom, "#eeeeee", 0.7);
gridLines(gI2, inset2IseTicks, yI2, false, I2.left, I2.right, "#eeeeee", 0.7);
gI2.selectAll("circle.p").data(nearBestPareto).join("circle")
  .attr("cx", d => xI2(d[0])).attr("cy", d => yI2(d[1])).attr("r", 1)
  .attr("fill", "#d04050");
gI2.selectAll("circle.d").data(nearBestDominated).join("circle")
  .attr("cx", d => xI2(d[0])).attr("cy", d => yI2(d[1])).attr("r", 0.9)
  .attr("fill", "#444");
frame(gI2, I2.left, I2.top, I2.right, I2.bottom, "#9a9a9a");
inset2GammaTicks.forEach(d => label(gI2, xI2(d), 493.5, d3.format("")(d), 8.6));
inset2IseTicks.forEach(d => label(gI2, I2.left - 3, yI2(d), d3.format("")(d), 8.6, "end"));

// pointer from the front to the selected solution and on to its caption
const bx = xI2(bestSolution[0]), by = yI2(bestSolution[1]);
gB.append("line").attr("x1", xI1(bestSolution[0])).attr("x2", bx)
  .attr("y1", yI1(1.559)).attr("y2", by).attr("stroke", "#555").attr("stroke-width", 0.8);
gB.append("line").attr("x1", bx).attr("x2", bx - 1.5).attr("y1", by).attr("y2", 497)
  .attr("stroke", "#333").attr("stroke-width", 0.8);
gB.append("circle").attr("cx", bx).attr("cy", by).attr("r", 1.4).attr("fill", "#111");
gB.append("circle").attr("cx", bx - 1.5).attr("cy", 497).attr("r", 1.3).attr("fill", "#111");
label(gB, 528, 510, "The selected best solution", 16.2, "end");

label(gB, (B.left + B.right) / 2 + 2, 563.5, "gamma", 18);
gB.append("text").attr("transform", "translate(23,418) rotate(-90)").attr("dy", "0.35em")
  .attr("text-anchor", "middle").attr("font-family", FONT).attr("font-size", 18).attr("fill", TEXT).text("ISE");
label(gB, 285, 584, "(b)", 18.5);
</script>
</body>
</html>
